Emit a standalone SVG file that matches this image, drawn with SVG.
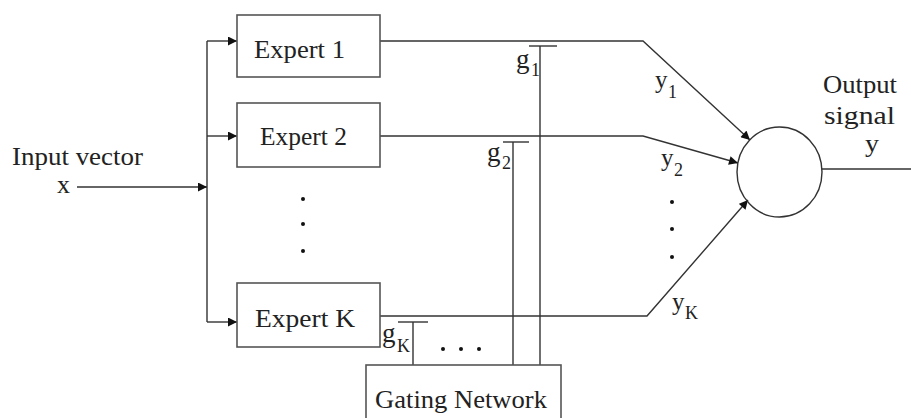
<svg xmlns="http://www.w3.org/2000/svg" width="911" height="418" viewBox="0 0 911 418">
<style>
.ln{fill:none;stroke:#333;stroke-width:1.4}
.box{fill:#fff;stroke:#555;stroke-width:1.6}
.t{font-family:"Liberation Serif","Times New Roman",serif;fill:#222;font-size:25px}
.v{font-family:"Liberation Serif","Times New Roman",serif;fill:#222;font-size:27px}
.w{font-family:"Liberation Serif","Times New Roman",serif;fill:#222;font-size:25px}
.s{font-family:"Liberation Serif","Times New Roman",serif;fill:#222;font-size:18px}
.dot{fill:#111}
</style>
<defs>
<marker id="ah" viewBox="0 0 10 10" refX="10" refY="5" markerWidth="10" markerHeight="9" markerUnits="userSpaceOnUse" orient="auto">
<path d="M0,0 L10,5 L0,10 Z" fill="#111"/>
</marker>
</defs>
<rect width="911" height="418" fill="#fff"/>
<g id="connectors">
<line class="ln" x1="77" y1="187" x2="207" y2="187" marker-end="url(#ah)"/>
<line class="ln" x1="207" y1="41" x2="207" y2="322"/>
<line class="ln" x1="207" y1="41" x2="237" y2="41" marker-end="url(#ah)"/>
<line class="ln" x1="207" y1="136" x2="237" y2="136" marker-end="url(#ah)"/>
<line class="ln" x1="207" y1="322" x2="237" y2="322" marker-end="url(#ah)"/>
<polyline class="ln" points="380,41 643,41 750,140" marker-end="url(#ah)"/>
<polyline class="ln" points="380,136 643,136 738,163" marker-end="url(#ah)"/>
<polyline class="ln" points="380,316 647,316 748,200" marker-end="url(#ah)"/>
<line class="ln" x1="540" y1="46" x2="540" y2="365"/>
<line class="ln" x1="529" y1="46" x2="557" y2="46"/>
<line class="ln" x1="513" y1="142" x2="513" y2="365"/>
<line class="ln" x1="503" y1="142" x2="529" y2="142"/>
<line class="ln" x1="413" y1="322" x2="413" y2="365"/>
<line class="ln" x1="398" y1="322" x2="428" y2="322"/>
<line class="ln" x1="822" y1="169" x2="911" y2="169"/>
</g>
<g id="input">
<text class="t" x="12" y="165" textLength="131" lengthAdjust="spacingAndGlyphs">Input vector</text>
<text class="t" x="57" y="193" textLength="13" lengthAdjust="spacingAndGlyphs">x</text>
</g>
<g id="expert1">
<rect class="box" x="237" y="15" width="143" height="62"/>
<text class="t" x="254" y="58" textLength="91" lengthAdjust="spacingAndGlyphs">Expert 1</text>
</g>
<g id="expert2">
<rect class="box" x="237" y="103" width="143" height="64"/>
<text class="t" x="260" y="145" textLength="87" lengthAdjust="spacingAndGlyphs">Expert 2</text>
</g>
<g id="expertK">
<rect class="box" x="237" y="283" width="143" height="64"/>
<text class="t" x="255" y="327" textLength="100" lengthAdjust="spacingAndGlyphs">Expert K</text>
</g>
<g id="gating">
<rect class="box" x="366" y="365" width="195" height="60"/>
<text class="t" x="375" y="408" textLength="172" lengthAdjust="spacingAndGlyphs">Gating Network</text>
</g>
<g id="combiner">
<ellipse class="ln" cx="779.5" cy="172" rx="42.5" ry="45"/>
</g>
<g id="output">
<text class="t" x="823" y="93" textLength="74" lengthAdjust="spacingAndGlyphs">Output</text>
<text class="t" x="824" y="124" textLength="71" lengthAdjust="spacingAndGlyphs">signal</text>
<text class="t" x="865" y="152" textLength="14" lengthAdjust="spacingAndGlyphs">y</text>
</g>
<g id="labels">
<text class="v" x="516" y="68">g</text><text class="s" x="531" y="76">1</text>
<text class="v" x="487" y="161">g</text><text class="s" x="502" y="169">2</text>
<text class="v" x="382" y="342">g</text><text class="s" x="397" y="352">K</text>
<text class="w" x="655" y="88">y</text><text class="s" x="668" y="98">1</text>
<text class="w" x="661" y="166">y</text><text class="s" x="674" y="176">2</text>
<text class="w" x="672" y="310">y</text><text class="s" x="685" y="319">K</text>
</g>
<g id="dots">
<circle class="dot" cx="303" cy="199" r="2"/>
<circle class="dot" cx="303" cy="224" r="2"/>
<circle class="dot" cx="303" cy="251" r="2"/>
<circle class="dot" cx="672" cy="202" r="2"/>
<circle class="dot" cx="672" cy="229" r="2"/>
<circle class="dot" cx="672" cy="257" r="2"/>
<circle class="dot" cx="443" cy="349" r="2"/>
<circle class="dot" cx="461" cy="349" r="2"/>
<circle class="dot" cx="479" cy="349" r="2"/>
</g>
</svg>
